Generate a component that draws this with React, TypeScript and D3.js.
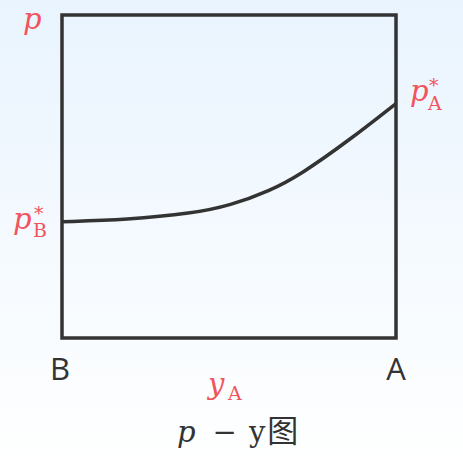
import React, { useEffect, useRef } from "react";
import * as d3 from "d3";

// p-y curve (y_A from B=0 to A=1, p relative to box height)
const yA = [0, 0.195, 0.392, 0.503, 0.623, 0.713, 0.862, 1];
const pVals = [0.36, 0.366, 0.386, 0.41, 0.456, 0.505, 0.614, 0.726];
const xEnds = ["B", "A"];

const width = 463;
const height = 470;
const red = "#f2545b";
const dark = "#333333";

export default function App() {
  const ref = useRef<SVGSVGElement>(null);

  useEffect(() => {
    const svg = d3.select(ref.current);
    svg.selectAll("*").remove();

    const defs = svg.append("defs");
    const grad = defs.append("linearGradient").attr("id", "bg").attr("x1", 0).attr("y1", 0).attr("x2", 0).attr("y2", 1);
    grad.append("stop").attr("offset", "0%").attr("stop-color", "#e9f4fe");
    grad.append("stop").attr("offset", "100%").attr("stop-color", "#ffffff");
    svg.append("rect").attr("width", width).attr("height", height).attr("fill", "url(#bg)");

    const x = d3.scaleLinear().domain([0, 1]).range([62, 396]);
    const y = d3.scaleLinear().domain([0, 1]).range([338, 15]);

    // frame
    svg.append("rect")
      .attr("x", x(0)).attr("y", y(1))
      .attr("width", x(1) - x(0)).attr("height", y(0) - y(1))
      .attr("fill", "none").attr("stroke", dark).attr("stroke-width", 3.5);

    const line = d3.line<number>()
      .x((d, i) => x(yA[i]))
      .y(d => y(d))
      .curve(d3.curveBasis);

    svg.append("path").datum(pVals)
      .attr("d", line)
      .attr("fill", "none").attr("stroke", dark).attr("stroke-width", 3.5);

    const serif = "'DejaVu Serif', 'Liberation Serif', serif";
    const sans = "'Open Sans', 'Noto Sans', sans-serif";

    // p axis label
    svg.append("text").attr("x", 23).attr("y", 29)
      .attr("font-family", serif).attr("font-style", "italic").attr("font-size", 29)
      .attr("fill", red).text("p");

    // p*_A and p*_B
    const pStar = (px: number, py: number, sub: string, sx: number, sy: number) => {
      svg.append("text").attr("x", px).attr("y", py)
        .attr("font-family", serif).attr("font-style", "italic").attr("font-size", 29)
        .attr("fill", red).text("p");
      svg.append("text").attr("x", sx + 1).attr("y", py - 9)
        .attr("font-family", serif).attr("font-size", 19).attr("fill", red).text("*");
      svg.append("text").attr("x", sx).attr("y", sy)
        .attr("font-family", serif).attr("font-size", 19).attr("fill", red).text(sub);
    };
    pStar(410, y(pVals[pVals.length - 1]) - 3, "A", 428, 110);
    pStar(13, y(pVals[0]) + 7, "B", 33, 237);

    // B / A end labels
    svg.selectAll(".end").data(xEnds).join("text").attr("class", "end")
      .attr("x", (d, i) => x(i) - 2 + i * 2).attr("y", 380)
      .attr("text-anchor", "middle")
      .attr("font-family", sans).attr("font-size", 31).attr("fill", dark)
      .text(d => d);

    // y_A
    svg.append("text").attr("x", 208).attr("y", 394)
      .attr("font-family", serif).attr("font-style", "italic").attr("font-size", 29)
      .attr("fill", red).text("y");
    svg.append("text").attr("x", 228).attr("y", 400)
      .attr("font-family", serif).attr("font-size", 19).attr("fill", red).text("A");

    // caption
    const cap = svg.append("text").attr("x", 177).attr("y", 442)
      .attr("font-family", serif).attr("font-size", 29).attr("fill", dark);
    cap.append("tspan").attr("font-style", "italic").text("p");
    cap.append("tspan").attr("dx", 17).text("−");
    cap.append("tspan").attr("dx", 12).text("y");
    cap.append("tspan").attr("font-family", "'Noto Sans CJK SC', sans-serif").attr("font-size", 31).attr("dx", 2).text("图");
  }, []);

  return (
    <svg ref={ref} width={width} height={height}
      style={{ position: "absolute", left: 0, top: 0, display: "block" }} />
  );
}
